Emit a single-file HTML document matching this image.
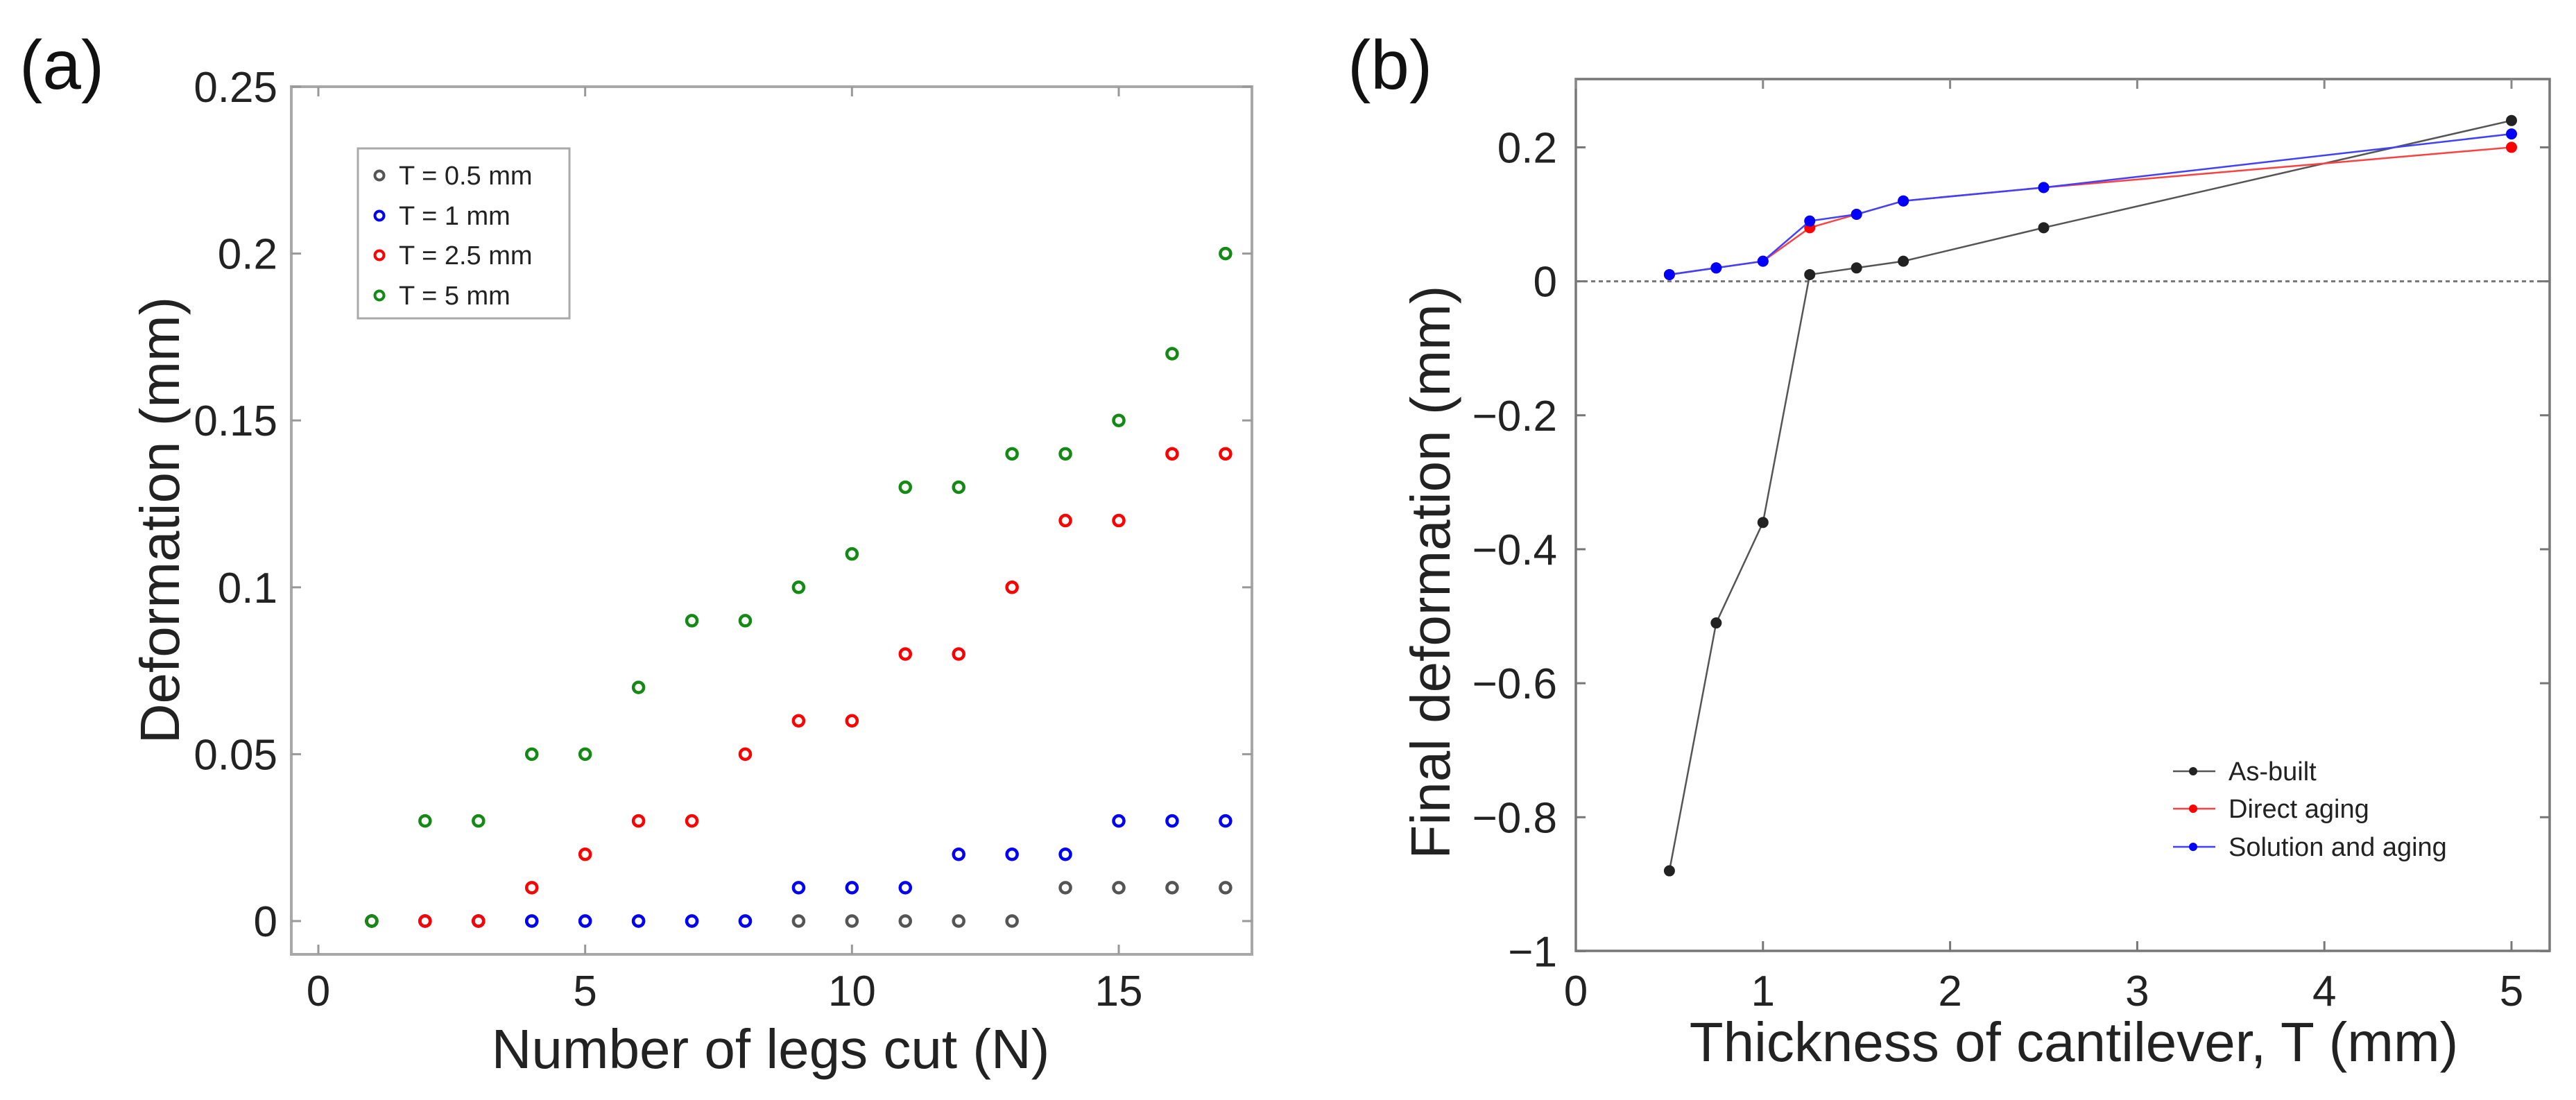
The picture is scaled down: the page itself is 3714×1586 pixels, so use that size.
<!DOCTYPE html>
<html><head><meta charset="utf-8">
<style>
html,body{margin:0;padding:0;background:#fff;}
svg{display:block;font-family:"Liberation Sans",Arial,sans-serif;}
</style></head>
<body>
<svg id="fig" width="3714" height="1586" viewBox="0 0 3714 1586" xmlns="http://www.w3.org/2000/svg">
<rect x="0" y="0" width="3714" height="1586" fill="#fff"/>
<text x="28" y="128" font-size="100" fill="#111">(a)</text>
<text x="1943" y="128" font-size="100" fill="#111">(b)</text>
<g id="pa"></g>
<g id="pb"></g>
</svg>
<script>
// Chart A data
const aN = [1,2,3,4,5,6,7,8,9,10,11,12,13,14,15,16,17];
const aT05 = [0,0,0,0,0,0,0,0,0,0,0,0,0,0.01,0.01,0.01,0.01];
const aT1 = [0,0,0,0,0,0,0,0,0.01,0.01,0.01,0.02,0.02,0.02,0.03,0.03,0.03];
const aT25 = [0,0,0,0.01,0.02,0.03,0.03,0.05,0.06,0.06,0.08,0.08,0.1,0.12,0.12,0.14,0.14];
const aT5 = [0,0.03,0.03,0.05,0.05,0.07,0.09,0.09,0.1,0.11,0.13,0.13,0.14,0.14,0.15,0.17,0.2];
const aXTicks = [0,5,10,15];
const aYTicks = [0,0.05,0.1,0.15,0.2,0.25];
const aYTickLabels = ["0","0.05","0.1","0.15","0.2","0.25"];
const aLegend = ["T = 0.5 mm","T = 1 mm","T = 2.5 mm","T = 5 mm"];
// Chart B data
const bT = [0.5,0.75,1,1.25,1.5,1.75,2.5,5];
const bAsBuilt = [-0.88,-0.51,-0.36,0.01,0.02,0.03,0.08,0.24];
const bDirect = [0.01,0.02,0.03,0.08,0.10,0.12,0.14,0.20];
const bSolution = [0.01,0.02,0.03,0.09,0.10,0.12,0.14,0.22];
const bXTicks = [0,1,2,3,4,5];
const bYTicks = [0.2,0,-0.2,-0.4,-0.6,-0.8,-1];
const bYTickLabels = ["0.2","0","\u22120.2","\u22120.4","\u22120.6","\u22120.8","\u22121"];
const bLegend = ["As-built","Direct aging","Solution and aging"];

const NS="http://www.w3.org/2000/svg";
function mk(parent,tag,attrs,text){const e=document.createElementNS(NS,tag);for(const k in attrs)e.setAttribute(k,attrs[k]);if(text!==undefined)e.textContent=text;parent.appendChild(e);return e;}

// ---- Chart A ----
const A=document.getElementById('pa');
const aL=420,aR=1805,aTop=125,aB=1376;
const ax=v=>459+(v-0)*(1613-459)/15;
const ay=v=>1328-(v)*(1328-125)/0.25;
let r=mk(A,'rect',{x:aL,y:aTop,width:aR-aL,height:aB-aTop,fill:'none',stroke:'#a8a8a8','stroke-width':4});

aXTicks.forEach(t=>{
  mk(A,'line',{x1:ax(t),x2:ax(t),y1:aB,y2:aB-14,stroke:'#999','stroke-width':3});
  mk(A,'line',{x1:ax(t),x2:ax(t),y1:aTop,y2:aTop+14,stroke:'#999','stroke-width':3});
  const tx=mk(A,'text',{x:ax(t),y:1450,'font-size':62,'text-anchor':'middle',fill:'#222'},String(t));
  
});
aYTicks.forEach((t,i)=>{
  mk(A,'line',{x1:aL,x2:aL+14,y1:ay(t),y2:ay(t),stroke:'#999','stroke-width':3});
  mk(A,'line',{x1:aR,x2:aR-14,y1:ay(t),y2:ay(t),stroke:'#999','stroke-width':3});
  const tx=mk(A,'text',{x:400,y:ay(t)+22,'font-size':62,'text-anchor':'end',fill:'#222'},aYTickLabels[i]);
  
});
let t1=mk(A,'text',{x:1111,y:1540,'font-size':80,'text-anchor':'middle',fill:'#222'},'Number of legs cut (N)');

let t2=mk(A,'text',{x:0,y:0,'font-size':80,'text-anchor':'middle',fill:'#222',transform:'translate(258,750) rotate(-90)'},'Deformation (mm)');

const aSeries=[[aT05,'#555'],[aT1,'#0000ff'],[aT25,'#ff0000'],[aT5,'#138a13']];
aSeries.forEach(([vals,col],si)=>{
  aN.forEach((n,i)=>{
    const c=mk(A,'circle',{cx:ax(n),cy:ay(vals[i]),r:7.5,fill:'none',stroke:col,'stroke-width':4.5});
    
    
  });
});
let lg=mk(A,'g',{});

mk(lg,'rect',{x:516,y:214,width:305,height:245,fill:'#fff',stroke:'#aaa','stroke-width':3});
const aLy=[253,311,368,426];
aLegend.forEach((s,i)=>{
  const g=mk(lg,'g',{});
  
  mk(g,'circle',{cx:547,cy:aLy[i],r:6.5,fill:'none',stroke:aSeries[i][1],'stroke-width':4});
  mk(g,'text',{x:575,y:aLy[i]+13,'font-size':38,fill:'#222'},s);
});

// ---- Chart B ----
const B=document.getElementById('pb');
const bL=2272,bR=3676,bTop=114,bB=1371;
const bx=v=>2272+v*(3621-2272)/5;
const by=v=>405.6-v*(1371-212)/1.2;
let rb=mk(B,'rect',{x:bL,y:bTop,width:bR-bL,height:bB-bTop,fill:'none',stroke:'#777','stroke-width':3.5});

bXTicks.forEach(t=>{
  mk(B,'line',{x1:bx(t),x2:bx(t),y1:bB,y2:bB-14,stroke:'#777','stroke-width':3});
  mk(B,'line',{x1:bx(t),x2:bx(t),y1:bTop,y2:bTop+14,stroke:'#888','stroke-width':3});
  const tx=mk(B,'text',{x:bx(t),y:1450,'font-size':62,'text-anchor':'middle',fill:'#222'},String(t));
  
});
bYTicks.forEach((t,i)=>{
  mk(B,'line',{x1:bL,x2:bL+14,y1:by(t),y2:by(t),stroke:'#777','stroke-width':3});
  mk(B,'line',{x1:bR,x2:bR-14,y1:by(t),y2:by(t),stroke:'#777','stroke-width':3});
  const tx=mk(B,'text',{x:2245,y:by(t)+22,'font-size':62,'text-anchor':'end',fill:'#222'},bYTickLabels[i]);
  
});
let zl=mk(B,'line',{x1:bL,x2:bR,y1:by(0),y2:by(0),stroke:'#777','stroke-width':3,'stroke-dasharray':'6 5'});

let t3=mk(B,'text',{x:2990,y:1530,'font-size':80,'text-anchor':'middle',fill:'#222'},'Thickness of cantilever, T (mm)');

let t4=mk(B,'text',{x:0,y:0,'font-size':80,'text-anchor':'middle',fill:'#222',transform:'translate(2090,825) rotate(-90)'},'Final deformation (mm)');

const bSeries=[[bAsBuilt,'#222','#555'],[bDirect,'#ff0000','#ff4040'],[bSolution,'#0000ff','#4040ff']];
bSeries.forEach(([vals,col,lc],si)=>{
  const pts=bT.map((t,i)=>bx(t)+','+by(vals[i])).join(' ');
  const pl=mk(B,'polyline',{points:pts,fill:'none',stroke:lc,'stroke-width':2.5});
  
  
  bT.forEach((t,i)=>{
    const c=mk(B,'circle',{cx:bx(t),cy:by(vals[i]),r:8,fill:col});
    
    
  });
});
const bLy=[1112,1166,1221];
let lgb=mk(B,'g',{});

bLegend.forEach((s,i)=>{
  const g=mk(lgb,'g',{});
  
  mk(g,'line',{x1:3133,x2:3194,y1:bLy[i],y2:bLy[i],stroke:bSeries[i][2],'stroke-width':2.5});
  mk(g,'circle',{cx:3162,cy:bLy[i],r:6,fill:bSeries[i][1]});
  mk(g,'text',{x:3213,y:bLy[i]+13,'font-size':38,fill:'#222'},s);
});
</script>
</body></html>
